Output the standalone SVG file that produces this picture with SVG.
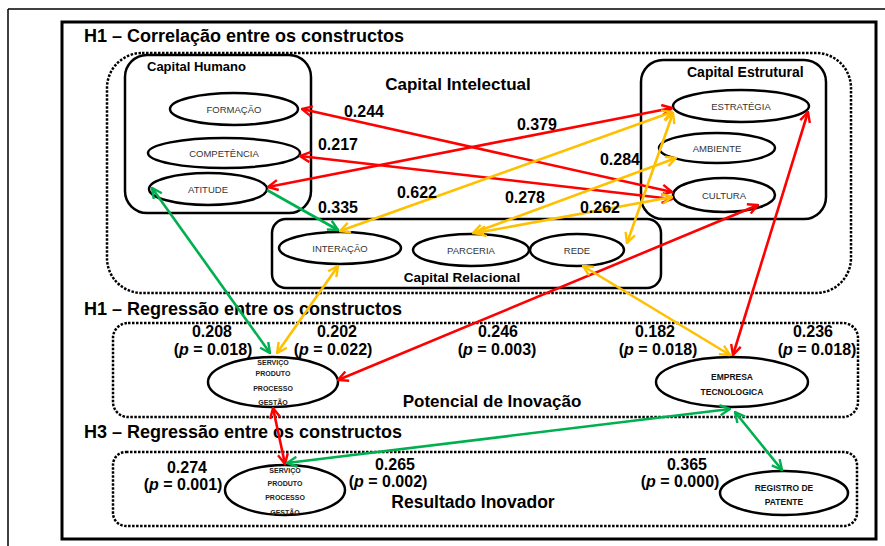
<svg xmlns="http://www.w3.org/2000/svg" width="885" height="546" viewBox="0 0 885 546">
<style>
.t{font-family:"Liberation Sans",Arial,sans-serif;font-weight:bold;fill:#000}
.h{font-size:18px}
.grp{font-size:17px}
.v{font-size:16px;text-anchor:middle}
.n{font-family:"Liberation Sans",Arial,sans-serif;font-size:9.5px;fill:#333;text-anchor:middle}
.s{font-family:"Liberation Sans",Arial,sans-serif;font-size:7px;font-weight:bold;fill:#222;text-anchor:middle}
.b{font-family:"Liberation Sans",Arial,sans-serif;font-size:8.5px;font-weight:bold;fill:#111;text-anchor:middle}
.el{fill:#fff;stroke:#000;stroke-width:2.5}
.box{fill:none;stroke:#000;stroke-width:2.5}
.dot{fill:none;stroke:#000;stroke-width:2.5;stroke-dasharray:2.5 1.5}
.r{stroke:#ff0000;stroke-width:2.6;fill:none}
.y{stroke:#ffc000;stroke-width:2.6;fill:none}
.g{stroke:#00b050;stroke-width:2.6;fill:none}
</style>
<defs>
<marker id="mr" viewBox="0 0 12 12" refX="11" refY="6" markerWidth="12" markerHeight="12" markerUnits="userSpaceOnUse" orient="auto-start-reverse"><path d="M1,1 L11,6 L1,11" fill="none" stroke="#ff0000" stroke-width="2.4"/></marker>
<marker id="my" viewBox="0 0 12 12" refX="11" refY="6" markerWidth="12" markerHeight="12" markerUnits="userSpaceOnUse" orient="auto-start-reverse"><path d="M1,1 L11,6 L1,11" fill="none" stroke="#ffc000" stroke-width="2.4"/></marker>
<marker id="mg" viewBox="0 0 12 12" refX="11" refY="6" markerWidth="12" markerHeight="12" markerUnits="userSpaceOnUse" orient="auto-start-reverse"><path d="M1,1 L11,6 L1,11" fill="none" stroke="#00b050" stroke-width="2.4"/></marker>
</defs>
<rect width="885" height="546" fill="#fff"/>
<g id="frame">
<line x1="8" y1="9" x2="885" y2="9" stroke="#000" stroke-width="1.5"/>
<line x1="8" y1="9" x2="8" y2="546" stroke="#000" stroke-width="1.5"/>
<rect x="62" y="22" width="814" height="517" fill="none" stroke="#000" stroke-width="3"/>
</g>
<g id="titles">
<text class="t h" x="84" y="42">H1 – Correlação entre os constructos</text>
<text class="t h" x="84" y="315">H1 – Regressão entre os constructos</text>
<text class="t h" x="84" y="438">H3 – Regressão entre os constructos</text>
</g>
<g id="capital-intelectual">
<rect class="dot" x="107" y="53" width="744" height="240" rx="35"/>
<text class="t grp" x="458" y="90" text-anchor="middle">Capital Intelectual</text>
</g>
<g id="capital-humano">
<rect class="box" x="125" y="55" width="186" height="158" rx="22" fill="#fff"/>
<text class="t" x="147" y="71" font-size="13">Capital Humano</text>
</g>
<g id="capital-estrutural">
<rect class="box" x="641" y="60" width="185" height="159" rx="22"/>
<text class="t" x="687" y="77" font-size="14">Capital Estrutural</text>
</g>
<g id="capital-relacional">
<rect class="box" x="272" y="219" width="389" height="69" rx="14"/>
<text class="t" x="462" y="282" font-size="13.5" text-anchor="middle">Capital Relacional</text>
</g>
<g id="potencial-inovacao">
<rect class="dot" x="113" y="323" width="745" height="94" rx="15"/>
<text class="t grp" x="492" y="407" text-anchor="middle">Potencial de Inovação</text>
</g>
<g id="resultado-inovador">
<rect class="dot" x="113" y="452" width="744" height="74" rx="13"/>
<text class="t" x="473" y="508" font-size="17.5" text-anchor="middle">Resultado Inovador</text>
</g>
<g id="formacao"><ellipse class="el" cx="234" cy="109" rx="64" ry="16"/><text class="n" x="234" y="112.5">FORMAÇÃO</text></g>
<g id="competencia"><ellipse class="el" cx="224" cy="153" rx="76" ry="15"/><text class="n" x="224" y="156.5">COMPETÊNCIA</text></g>
<g id="atitude"><ellipse class="el" cx="208" cy="189" rx="59" ry="16"/><text class="n" x="208" y="192.5">ATITUDE</text></g>
<g id="estrategia"><ellipse class="el" cx="741" cy="106" rx="68" ry="16"/><text class="n" x="741" y="109.5">ESTRATÉGIA</text></g>
<g id="ambiente"><ellipse class="el" cx="717" cy="148" rx="58" ry="15"/><text class="n" x="717" y="151.5">AMBIENTE</text></g>
<g id="cultura"><ellipse class="el" cx="724" cy="195" rx="51" ry="17"/><text class="n" x="724" y="198.5">CULTURA</text></g>
<g id="interacao"><ellipse class="el" cx="340" cy="248" rx="61" ry="16"/><text class="n" x="340" y="251.5">INTERAÇÃO</text></g>
<g id="parceria"><ellipse class="el" cx="471" cy="250" rx="58" ry="16"/><text class="n" x="471" y="253.5">PARCERIA</text></g>
<g id="rede"><ellipse class="el" cx="577" cy="250" rx="47" ry="16"/><text class="n" x="577" y="253.5">REDE</text></g>
<g id="servico-potencial"><ellipse class="el" cx="273" cy="382" rx="65" ry="25"/>
<text class="s" x="273" y="364.5">SERVIÇO</text><text class="s" x="273" y="376">PRODUTO</text><text class="s" x="273" y="390.5">PROCESSO</text><text class="s" x="273" y="404.5">GESTÃO</text></g>
<g id="empresa-tecnologica"><ellipse class="el" cx="732" cy="382" rx="76" ry="25"/>
<text class="b" x="732" y="380">EMPRESA</text><text class="b" x="732" y="395">TECNOLOGICA</text></g>
<g id="servico-resultado"><ellipse class="el" cx="285" cy="490" rx="60" ry="25"/>
<text class="s" x="285" y="472.5">SERVIÇO</text><text class="s" x="285" y="485.5">PRODUTO</text><text class="s" x="285" y="499.5">PROCESSO</text><text class="s" x="285" y="514.5">GESTÃO</text></g>
<g id="registro-patente"><ellipse class="el" cx="784" cy="493" rx="64" ry="22"/>
<text class="b" x="784" y="491">REGISTRO DE</text><text class="b" x="784" y="505">PATENTE</text></g>
<g id="connectors">
<line class="r" x1="302" y1="109" x2="672" y2="192" marker-start="url(#mr)" marker-end="url(#mr)"/>
<line class="r" x1="300" y1="156" x2="672" y2="199" marker-start="url(#mr)" marker-end="url(#mr)"/>
<line class="r" x1="268" y1="187" x2="672" y2="108" marker-start="url(#mr)" marker-end="url(#mr)"/>
<line class="r" x1="808" y1="112" x2="733" y2="355" marker-start="url(#mr)" marker-end="url(#mr)"/>
<line class="r" x1="758" y1="205" x2="338" y2="380" marker-start="url(#mr)" marker-end="url(#mr)"/>
<line class="r" x1="273" y1="408" x2="285" y2="464" marker-start="url(#mr)" marker-end="url(#mr)"/>
<line class="y" x1="340" y1="231" x2="672" y2="112" marker-start="url(#my)" marker-end="url(#my)"/>
<line class="y" x1="473" y1="233" x2="676" y2="158" marker-start="url(#my)" marker-end="url(#my)"/>
<line class="y" x1="476" y1="233" x2="672" y2="197" marker-start="url(#my)" marker-end="url(#my)"/>
<line class="y" x1="673" y1="113" x2="627" y2="243" marker-start="url(#my)" marker-end="url(#my)"/>
<line class="y" x1="338" y1="266" x2="277" y2="353" marker-start="url(#my)" marker-end="url(#my)"/>
<line class="y" x1="583" y1="266" x2="730" y2="355" marker-start="url(#my)" marker-end="url(#my)"/>
<line class="g" x1="267" y1="190" x2="338" y2="230" marker-end="url(#mg)"/>
<line class="g" x1="152" y1="188" x2="270" y2="353" marker-start="url(#mg)" marker-end="url(#mg)"/>
<line class="g" x1="730" y1="409" x2="287" y2="463" marker-start="url(#mg)" marker-end="url(#mg)"/>
<line class="g" x1="735" y1="412" x2="782" y2="470" marker-start="url(#mg)" marker-end="url(#mg)"/>
</g>
<g id="labels">
<text class="t v" x="364" y="117">0.244</text>
<text class="t v" x="338" y="150">0.217</text>
<text class="t v" x="537" y="130">0.379</text>
<text class="t v" x="417" y="198">0.622</text>
<text class="t v" x="338" y="213">0.335</text>
<text class="t v" x="620" y="165">0.284</text>
<text class="t v" x="525" y="203">0.278</text>
<text class="t v" x="600" y="213">0.262</text>
<text class="t v" x="212" y="337">0.208</text>
<text class="t v" x="213" y="355">(<tspan font-style="italic">p</tspan> = 0.018)</text>
<text class="t v" x="337" y="337">0.202</text>
<text class="t v" x="333" y="355">(<tspan font-style="italic">p</tspan> = 0.022)</text>
<text class="t v" x="498" y="337">0.246</text>
<text class="t v" x="497" y="355">(<tspan font-style="italic">p</tspan> = 0.003)</text>
<text class="t v" x="655" y="337">0.182</text>
<text class="t v" x="658" y="355">(<tspan font-style="italic">p</tspan> = 0.018)</text>
<text class="t v" x="813" y="337">0.236</text>
<text class="t v" x="817" y="355">(<tspan font-style="italic">p</tspan> = 0.018)</text>
<text class="t v" x="187" y="473">0.274</text>
<text class="t v" x="183" y="490">(<tspan font-style="italic">p</tspan> = 0.001)</text>
<text class="t v" x="395" y="470">0.265</text>
<text class="t v" x="388" y="487">(<tspan font-style="italic">p</tspan> = 0.002)</text>
<text class="t v" x="687" y="470">0.365</text>
<text class="t v" x="680" y="487">(<tspan font-style="italic">p</tspan> = 0.000)</text>
</g>
</svg>
